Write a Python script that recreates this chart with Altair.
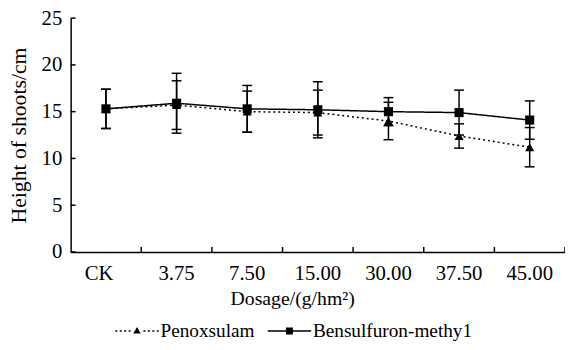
import altair as alt
import pandas as pd

# ---- data ----
doses = ["CK", "3.75", "7.50", "15.00", "30.00", "37.50", "45.00"]
series_names = ["Penoxsulam", "Bensulfuron-methy1"]
pen_mean = [15.3, 15.7, 15.0, 14.9, 14.0, 12.4, 11.2]
pen_err = [2.1, 2.6, 2.2, 2.4, 2.0, 1.3, 2.1]
ben_mean = [15.3, 15.9, 15.3, 15.2, 15.0, 14.9, 14.1]
ben_err = [2.1, 3.2, 2.5, 3.0, 1.5, 2.4, 2.05]
y_ticks = [0, 5, 10, 15, 20, 25]

FONT = "Liberation Serif"
W, H = 501, 237

rows = []
for name, means, errs in [(series_names[0], pen_mean, pen_err), (series_names[1], ben_mean, ben_err)]:
    for d, m, e in zip(doses, means, errs):
        rows.append({"dose": d, "series": name, "mean": m, "lo": m - e, "hi": m + e})
df = pd.DataFrame(rows)
df_ticks_y = pd.DataFrame({"t": y_ticks})
df_ticks_x = pd.DataFrame({"dose": doses})

xscale = alt.Scale(type="band", domain=doses, paddingInner=0, paddingOuter=0)
yscale = alt.Scale(domain=[0, 25], nice=False)
xaxis = alt.Axis(title="Dosage/(g/hm²)", labelAngle=0, ticks=False, labelPadding=11,
                 labelFontSize=21, titleFontSize=20,
                 labelOffset={"condition": {"test": "datum.label == 'CK'", "value": -7}, "value": 0},
                 titlePadding=5, titleX=224.5, domainWidth=1.5, domainColor="black",
                 labelFont=FONT, titleFont=FONT)
yaxis = alt.Axis(title="Height of shoots/cm", values=y_ticks, ticks=False, labelPadding=9,
                 labelFontSize=21, titleFontSize=22,
                 titlePadding=10.5, domainWidth=1.5, domainColor="black", grid=False,
                 labelFont=FONT, titleFont=FONT)

def X(**kw):
    return alt.X("dose:N", sort=doses, scale=xscale, axis=xaxis, **kw)

def Y(field):
    return alt.Y(field, scale=yscale, axis=yaxis)

base = alt.Chart(df)

lines = base.mark_line(color="black", strokeWidth=1.5).encode(
    x=X(), y=Y("mean:Q"),
    strokeDash=alt.StrokeDash("series:N", scale=alt.Scale(domain=series_names, range=[[2, 3], [1, 0]]), legend=None),
    detail="series:N",
)
bars = base.mark_rule(color="black", strokeWidth=1.5).encode(x=X(), y=Y("lo:Q"), y2="hi:Q")
cap_lo = base.mark_tick(color="black", thickness=1.5, size=10, opacity=1).encode(x=X(), y=Y("lo:Q"))
cap_hi = base.mark_tick(color="black", thickness=1.5, size=10, opacity=1).encode(x=X(), y=Y("hi:Q"))
points = base.mark_point(filled=True, color="black", opacity=1, size=85).encode(
    x=X(), y=Y("mean:Q"),
    shape=alt.Shape("series:N", scale=alt.Scale(domain=series_names, range=["triangle-up", "square"]), legend=None),
)

# legend glyphs: dotted line + triangle, solid line + square (all filled sub-paths)
pen_path = ("M-4.4,-0.15h0.4v0.3h-0.4Z M-3.5,-0.15h0.4v0.3h-0.4Z M-2.6,-0.15h0.4v0.3h-0.4Z M-1.7,-0.15h0.4v0.3h-0.4Z "
            "M1.3,-0.15h0.4v0.3h-0.4Z M2.2,-0.15h0.4v0.3h-0.4Z M3.1,-0.15h0.4v0.3h-0.4Z M4.0,-0.15h0.4v0.3h-0.4Z "
            "M0,-0.8L0.75,0.5L-0.75,0.5Z")
ben_path = "M-4.4,-0.15H4.4V0.15H-4.4Z M-0.7,-0.7H0.7V0.7H-0.7Z"

legend_layer = base.mark_point(filled=True, color="black", opacity=1, size=100).encode(
    shape=alt.Shape("series:N",
                    scale=alt.Scale(domain=series_names, range=[pen_path, ben_path]),
                    legend=alt.Legend(title=None, orient="none", legendX=57.5, legendY=307,
                                      direction="horizontal", labelFont=FONT, labelFontSize=19.5,
                                      labelColor="black", labelOffset=14, columnPadding=12.5,
                                      labelLimit=0, symbolSize=100, symbolStrokeWidth=0)),
).transform_filter("false")

yticks = alt.Chart(df_ticks_y).mark_rule(color="black", strokeWidth=1.5).encode(
    y=Y("t:Q"), x=alt.value(0), x2=alt.value(5))
xticks = alt.Chart(df_ticks_x).mark_rule(color="black", strokeWidth=1.5).encode(
    x=X(bandPosition=1), y=alt.value(H), y2=alt.value(H - 5))

chart = alt.layer(lines, bars, cap_lo, cap_hi, points, yticks, xticks, legend_layer).resolve_scale(
    shape="independent"
).properties(
    width=W, height=H,
    autosize=alt.AutoSizeParams(type="none"),
    padding={"left": 63.5, "top": 8, "right": 0, "bottom": 89},
).configure(font=FONT).configure_view(stroke=None).configure_axis(
    labelFont=FONT, titleFont=FONT,
    labelColor="black", titleColor="black", titleFontWeight="normal", grid=False,
)

chart.save("out.html", embed_options={"renderer": "svg", "actions": False})
